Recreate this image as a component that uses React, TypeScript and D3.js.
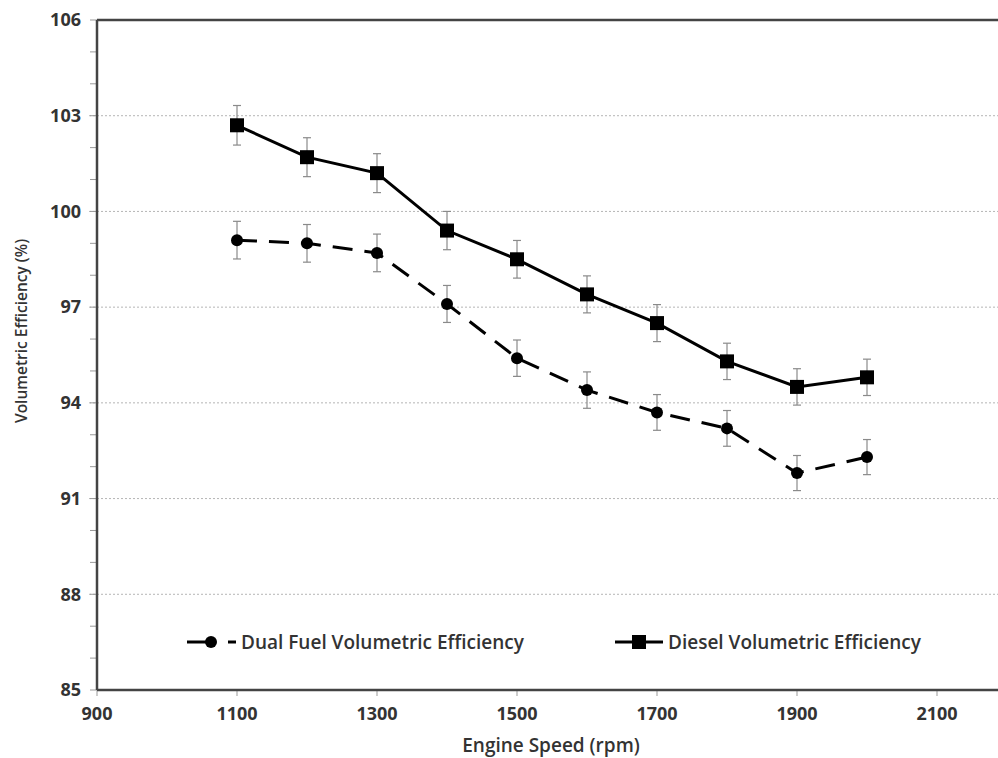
import React from 'react'
import * as d3 from 'd3'

// Engine speed (rpm)
const speeds = [1100, 1200, 1300, 1400, 1500, 1600, 1700, 1800, 1900, 2000]

// Volumetric efficiency (%)
const dieselVE = [102.7, 101.7, 101.2, 99.4, 98.5, 97.4, 96.5, 95.3, 94.5, 94.8]
const dieselErr = [0.62, 0.61, 0.61, 0.6, 0.59, 0.58, 0.58, 0.57, 0.57, 0.57]

const dualVE = [99.1, 99.0, 98.7, 97.1, 95.4, 94.4, 93.7, 93.2, 91.8, 92.3]
const dualErr = [0.59, 0.59, 0.59, 0.58, 0.57, 0.57, 0.56, 0.56, 0.55, 0.55]

const xTicks = [900, 1100, 1300, 1500, 1700, 1900, 2100]
const yTicks = [85, 88, 91, 94, 97, 100, 103, 106]
const yMinorTicks = d3.range(85, 107, 1)

const W = 998
const H = 758
const left = 97
const top = 20
const bottom = 690
const right = 998

const FONT = '"Open Sans", Lato, sans-serif'
const TEXT = '#333'

const App: React.FC = () => {
  const x = d3.scaleLinear().domain([900, 2100]).range([left, 937])
  const y = d3.scaleLinear().domain([85, 106]).range([bottom, top])

  const line = d3.line<number>()
    .x((_, i) => x(speeds[i]))
    .y(d => y(d))

  const errorBars = (vals: number[], errs: number[], key: string) =>
    vals.map((v, i) => {
      const cx = x(speeds[i])
      return (
        <g key={`${key}-${i}`} stroke="#8a8a8a" strokeWidth={1.2}>
          <line x1={cx} x2={cx} y1={y(v + errs[i])} y2={y(v - errs[i])} />
          <line x1={cx - 4} x2={cx + 4} y1={y(v + errs[i])} y2={y(v + errs[i])} />
          <line x1={cx - 4} x2={cx + 4} y1={y(v - errs[i])} y2={y(v - errs[i])} />
        </g>
      )
    })

  const legendY = 642

  return (
    <svg width={W} height={H} style={{ position: 'absolute', left: 0, top: 0, background: '#fff' }}>
      <rect width={W} height={H} fill="#fff" />

      {/* gridlines */}
      {yTicks.filter(t => t !== 85 && t !== 106).map(t => (
        <line key={`g${t}`} x1={left - 8} x2={right} y1={y(t)} y2={y(t)}
          stroke="#b5b5b5" strokeWidth={1} strokeDasharray="2,2" />
      ))}

      {/* y minor ticks */}
      {yMinorTicks.map(t => (
        <line key={`ym${t}`} x1={left - 7} x2={left} y1={y(t)} y2={y(t)} stroke="#999" strokeWidth={1} />
      ))}

      {/* x ticks */}
      {xTicks.map(t => (
        <line key={`xt${t}`} x1={x(t)} x2={x(t)} y1={bottom} y2={bottom + 6} stroke="#bbb" strokeWidth={1.5} />
      ))}

      {/* frame */}
      <line x1={left} x2={right} y1={top} y2={top} stroke="#444" strokeWidth={2.5} />
      <line x1={left} x2={left} y1={top} y2={bottom} stroke="#444" strokeWidth={2.5} />
      <line x1={left} x2={right} y1={bottom} y2={bottom} stroke="#444" strokeWidth={2.5} />

      {/* tick labels */}
      {yTicks.map(t => (
        <text key={`yl${t}`} x={left - 16} y={y(t)} dy="0.35em" textAnchor="end"
          fontFamily={FONT} fontWeight={700} fontSize={18} fill={TEXT}>{t}</text>
      ))}
      {xTicks.map(t => (
        <text key={`xl${t}`} x={x(t)} y={bottom + 24} dy="0.35em" textAnchor="middle"
          fontFamily={FONT} fontWeight={700} fontSize={18} fill={TEXT}>{t}</text>
      ))}

      {/* axis titles */}
      <text x={551} y={745} dy="0.35em" textAnchor="middle" fontFamily={FONT} fontWeight={600}
        fontSize={19} fill={TEXT}>Engine Speed (rpm)</text>
      <text transform={`translate(22,${331}) rotate(-90)`} dy="0.35em" textAnchor="middle"
        fontFamily={FONT} fontWeight={600} fontSize={15.5} fill={TEXT}>Volumetric Efficiency (%)</text>

      {/* error bars */}
      {errorBars(dieselVE, dieselErr, 'de')}
      {errorBars(dualVE, dualErr, 'du')}

      {/* series lines */}
      <path d={line(dieselVE) || ''} fill="none" stroke="#000" strokeWidth={3} />
      <path d={line(dualVE) || ''} fill="none" stroke="#000" strokeWidth={3} strokeDasharray="20,12" />

      {/* markers */}
      {dieselVE.map((v, i) => (
        <rect key={`sq${i}`} x={x(speeds[i]) - 7} y={y(v) - 7} width={14} height={14} fill="#000" />
      ))}
      {dualVE.map((v, i) => (
        <circle key={`ci${i}`} cx={x(speeds[i])} cy={y(v)} r={6} fill="#000" />
      ))}

      {/* legend */}
      <g>
        <line x1={187} x2={211} y1={legendY} y2={legendY} stroke="#000" strokeWidth={3} />
        <line x1={228} x2={236} y1={legendY} y2={legendY} stroke="#000" strokeWidth={3} />
        <circle cx={211} cy={legendY} r={6} fill="#000" />
        <text x={241} y={legendY} dy="0.35em" fontFamily={FONT} fontWeight={600} fontSize={19}
          fill={TEXT}>Dual Fuel Volumetric Efficiency</text>

        <line x1={615} x2={663} y1={legendY} y2={legendY} stroke="#000" strokeWidth={3} />
        <rect x={632} y={legendY - 7} width={14} height={14} fill="#000" />
        <text x={668} y={legendY} dy="0.35em" fontFamily={FONT} fontWeight={600} fontSize={19}
          fill={TEXT}>Diesel Volumetric Efficiency</text>
      </g>
    </svg>
  )
}

export default App
